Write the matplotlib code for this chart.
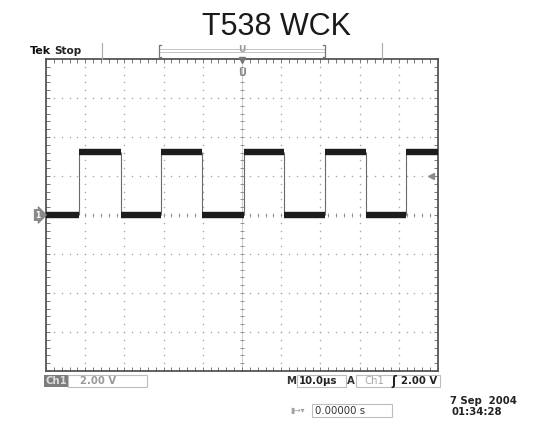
import numpy as np
import matplotlib
matplotlib.use("Agg")
import matplotlib.pyplot as plt
from matplotlib.patches import Rectangle

# clock edges, in microseconds (trace starts low)
edge_times = [-41.6, -30.9, -20.7, -10.2, 0.5, 10.7, 21.2, 31.6, 41.8]
low_level = 0.0      # V
high_level = 3.24    # V
trigger_level = 2.0  # V

time_div = 10.0  # us / div
volt_div = 2.0   # V / div
n_xdiv, n_ydiv = 10, 8

W, H = 551, 421
fig = plt.figure(figsize=(W / 100, H / 100), dpi=100)

# graticule area in pixels
left, right, top, bottom = 46, 438, 59, 371
ax = fig.add_axes([left / W, 1 - bottom / H, (right - left) / W, (bottom - top) / H])
ax.set_xlim(-n_xdiv / 2 * time_div, n_xdiv / 2 * time_div)
ax.set_ylim(-n_ydiv / 2 * volt_div, n_ydiv / 2 * volt_div)

for s in ax.spines.values():
    s.set_color('#555')
    s.set_linewidth(1.3)

# frame ticks every 1/5 div
ax.set_xticks(np.arange(-5, 6) * time_div)
ax.set_xticks(np.arange(-25, 26) * time_div / 5, minor=True)
ax.set_yticks(np.arange(-4, 5) * volt_div)
ax.set_yticks(np.arange(-20, 21) * volt_div / 5, minor=True)
ax.tick_params(which='both', direction='in', top=True, right=True,
               labelbottom=False, labelleft=False, color='#777',
               length=3, width=0.7)

# dotted grid lines
xs_fine = np.arange(-25, 26) * time_div / 5
ys_fine = np.arange(-20, 21) * volt_div / 5
for gx in np.arange(-4, 5) * time_div:
    ax.scatter(np.full_like(ys_fine, gx), ys_fine, s=1.2, color='#a8a8a8', lw=0, zorder=1)
for gy in np.arange(-3, 4) * volt_div:
    ax.scatter(xs_fine, np.full_like(xs_fine, gy), s=1.2, color='#a8a8a8', lw=0, zorder=1)

# centre cross with small ticks
ax.axvline(0, color='#c4c4c4', lw=0.6, zorder=1)
ax.scatter(np.zeros_like(ys_fine), ys_fine, marker='_', s=12, color='#888', lw=0.6, zorder=1)
ax.scatter(xs_fine, np.zeros_like(xs_fine), marker='|', s=12, color='#888', lw=0.6, zorder=1)

# trace
levels = [low_level if i % 2 == 0 else high_level for i in range(len(edge_times) + 1)]
bounds = [-n_xdiv / 2 * time_div] + edge_times + [n_xdiv / 2 * time_div]
for i, lv in enumerate(levels):
    ax.hlines(lv, bounds[i], bounds[i + 1], color='#1c1c1c', lw=4.6, zorder=3)
ax.vlines(edge_times, low_level, high_level, color='#6a6a6a', lw=0.8, zorder=2)

# trigger level arrow on the right
ax.plot(48.2, trigger_level, marker='<', color='#8a8a8a', ms=5, zorder=4, clip_on=False)
# trigger position marker
ax.text(0, 7.3, 'U', ha='center', va='center', fontsize=7, fontweight='bold', color='#888', zorder=4)
ax.plot(0, 7.95, marker='v', color='#777', ms=4, clip_on=False, zorder=4)

# overlay in pixel coordinates for the scope readouts
ov = fig.add_axes([0, 0, 1, 1], zorder=5)
ov.set_xlim(0, W)
ov.set_ylim(H, 0)
ov.axis('off')
ov.patch.set_alpha(0)

ov.text(277, 27, 'T538 WCK', ha='center', va='center', fontsize=22,
        family='Liberation Sans', color='#1a1a1a')

ov.text(30, 51, 'Tek', ha='left', va='center', fontsize=8, fontweight='bold', color='#111')
ov.text(54, 51, 'Stop', ha='left', va='center', fontsize=7.5, fontweight='bold', color='#222')

# header separators and record bracket
for sx in [102, 382]:
    ov.plot([sx, sx], [43, 59], color='#aaa', lw=0.8)
ov.add_patch(Rectangle((159, 48.5), 166, 3, fill=False, ec='#c4c4c4', lw=0.7))
ov.plot([161, 159, 159, 161], [45, 45, 57, 57], color='#777', lw=0.9)
ov.plot([323, 325, 325, 323], [45, 45, 57, 57], color='#777', lw=0.9)
ov.text(242, 50, 'U', ha='center', va='center', fontsize=6.5, fontweight='bold', color='#999')

# ground reference marker
ov.text(38, 215, '1', ha='center', va='center', fontsize=5.5, fontweight='bold', color='white',
        bbox=dict(boxstyle='rarrow,pad=0.15', fc='#8a8a8a', ec='#777', lw=0.5))

fs = 7.3
# status line 1
ov.add_patch(Rectangle((44, 375), 24, 12, fc='#7d7d7d', ec='none'))
ov.text(56, 381.5, 'Ch1', ha='center', va='center', fontsize=fs, fontweight='bold', color='#dcdcdc')
ov.add_patch(Rectangle((68, 375), 79, 12, fill=False, ec='#bdbdbd', lw=0.8))
ov.text(80, 381.5, '2.00 V', ha='left', va='center', fontsize=fs, fontweight='bold', color='#9a9a9a')

ov.text(291, 381.5, 'M', ha='center', va='center', fontsize=fs, fontweight='bold', color='#333')
ov.add_patch(Rectangle((297, 375), 49, 12, fill=False, ec='#bdbdbd', lw=0.8))
ov.text(299, 381.5, '10.0µs', ha='left', va='center', fontsize=fs, fontweight='bold', color='#222')
ov.text(351, 381.5, 'A', ha='center', va='center', fontsize=fs, fontweight='bold', color='#333')
ov.add_patch(Rectangle((356, 375), 84, 12, fill=False, ec='#bdbdbd', lw=0.8))
ov.text(364, 381.5, 'Ch1', ha='left', va='center', fontsize=fs, color='#a8a8a8')
ov.text(394, 381.5, 'ʃ', ha='center', va='center', fontsize=fs + 1, fontweight='bold', color='#222')
ov.text(437, 381.5, '2.00 V', ha='right', va='center', fontsize=fs, fontweight='bold', color='#222')

# status line 2
ov.text(298, 410, '▮→▾', ha='center', va='center', fontsize=5.5, color='#a0a0a0')
ov.add_patch(Rectangle((312, 404), 80, 13, fill=False, ec='#bdbdbd', lw=0.8))
ov.text(315, 410.5, '0.00000 s', ha='left', va='center', fontsize=fs, color='#333')
ov.text(517, 401, '7 Sep  2004', ha='right', va='center', fontsize=fs, fontweight='bold', color='#222')
ov.text(452, 412, '01:34:28', ha='left', va='center', fontsize=fs, fontweight='bold', color='#222')

fig.savefig('out.png', dpi=100)
